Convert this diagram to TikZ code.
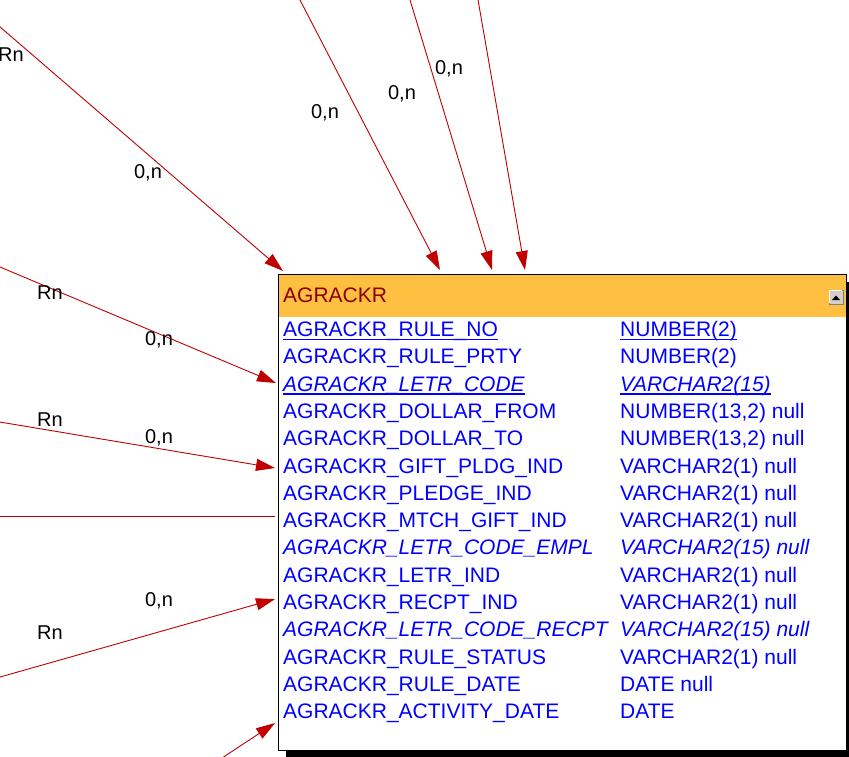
\documentclass[tikz,border=0pt]{standalone}
\usepackage{fontspec}
\setmainfont{Liberation Sans}
\usetikzlibrary{arrows.meta}
\definecolor{hdrfill}{HTML}{FFBF40}
\definecolor{ttlred}{HTML}{8B0000}
\definecolor{colblue}{HTML}{0000FF}
\definecolor{connred}{HTML}{C00000}
\definecolor{btngrey}{HTML}{D4D0C8}
\begin{document}
\begin{tikzpicture}[x=1pt,y=-1pt,
  relline/.style={draw=connred, line width=0.9pt},
  relarrow/.style={relline, -{Triangle[length=19pt,width=12pt]}},
  lbl/.style={font=\fontsize{20}{20}\selectfont, text=black, inner sep=0pt},
  field/.style={anchor=base west, inner sep=0pt, font=\fontsize{21}{21}\selectfont, text=colblue},
  itfield/.style={field, font=\fontsize{21}{21}\selectfont\itshape},
  ulline/.style={draw=colblue, line width=1.3pt}]
\useasboundingbox (0,0) rectangle (849,756);
\clip (0,0) rectangle (849,756);
\fill[white] (0,0) rectangle (849,756);

% shadow and table box
\fill[black] (286,282) rectangle (860,766);
\node[draw=black, line width=1pt, fill=white, minimum width=568pt, minimum height=476pt, inner sep=0pt, anchor=north west] (tbl) at (278,274) {};
\fill[hdrfill] (278.5,274.5) rectangle (845.5,317);
\node[anchor=base west, inner sep=0pt, font=\fontsize{21}{21}\selectfont, text=ttlred] (title) at (283,302.5) {AGRACKR};

% scroll button
\node[draw=gray, fill=btngrey, minimum size=14pt, inner sep=0pt, anchor=north west] (btn) at (829,290) {};
\draw[white, line width=0.8pt] (829.6,303.4) -- (829.6,290.6) -- (842.4,290.6);
\fill[black] (832,300) -- (840,300) -- (836,295.5) -- cycle;

% fields
\node[field] (n1) at (283,336.5) {AGRACKR\_RULE\_NO};
\node[field] (t1) at (620,336.5) {NUMBER(2)};
\node[field] (n2) at (283,363.8) {AGRACKR\_RULE\_PRTY};
\node[field] (t2) at (620,363.8) {NUMBER(2)};
\node[itfield] (n3) at (283,391.1) {AGRACKR\_LETR\_CODE};
\node[itfield] (t3) at (620,391.1) {VARCHAR2(15)};
\node[field] (n4) at (283,418.4) {AGRACKR\_DOLLAR\_FROM};
\node[field] (t4) at (620,418.4) {NUMBER(13,2) null};
\node[field] (n5) at (283,445.7) {AGRACKR\_DOLLAR\_TO};
\node[field] (t5) at (620,445.7) {NUMBER(13,2) null};
\node[field] (n6) at (283,473.0) {AGRACKR\_GIFT\_PLDG\_IND};
\node[field] (t6) at (620,473.0) {VARCHAR2(1) null};
\node[field] (n7) at (283,500.3) {AGRACKR\_PLEDGE\_IND};
\node[field] (t7) at (620,500.3) {VARCHAR2(1) null};
\node[field] (n8) at (283,527.6) {AGRACKR\_MTCH\_GIFT\_IND};
\node[field] (t8) at (620,527.6) {VARCHAR2(1) null};
\node[itfield] (n9) at (283,554.9) {AGRACKR\_LETR\_CODE\_EMPL};
\node[itfield] (t9) at (620,554.9) {VARCHAR2(15) null};
\node[field] (n10) at (283,582.2) {AGRACKR\_LETR\_IND};
\node[field] (t10) at (620,582.2) {VARCHAR2(1) null};
\node[field] (n11) at (283,609.5) {AGRACKR\_RECPT\_IND};
\node[field] (t11) at (620,609.5) {VARCHAR2(1) null};
\node[itfield] (n12) at (283,636.8) {AGRACKR\_LETR\_CODE\_RECPT};
\node[itfield] (t12) at (620,636.8) {VARCHAR2(15) null};
\node[field] (n13) at (283,664.1) {AGRACKR\_RULE\_STATUS};
\node[field] (t13) at (620,664.1) {VARCHAR2(1) null};
\node[field] (n14) at (283,691.4) {AGRACKR\_RULE\_DATE};
\node[field] (t14) at (620,691.4) {DATE null};
\node[field] (n15) at (283,718.7) {AGRACKR\_ACTIVITY\_DATE};
\node[field] (t15) at (620,718.7) {DATE};

% underlines (primary / foreign key)
\draw[ulline] ([yshift=-2.8pt]n1.base west) -- ([yshift=-2.8pt]n1.base east);
\draw[ulline] ([yshift=-2.8pt]t1.base west) -- ([yshift=-2.8pt]t1.base east);
\draw[ulline] ([yshift=-2.8pt]n3.base west) -- ([yshift=-2.8pt]n3.base east);
\draw[ulline] ([yshift=-2.8pt]t3.base west) -- ([yshift=-2.8pt]t3.base east);

% connector end points
\coordinate (s1) at (-30,1);      \coordinate (e1) at (283,271);
\coordinate (s2) at (294.8,-10);  \coordinate (e2) at (440,270);
\coordinate (s3) at (407,-10);    \coordinate (e3) at (492,270);
\coordinate (s4) at (476.3,-10);  \coordinate (e4) at (525,270);
\coordinate (s5) at (-20,258.6);  \coordinate (e5) at (276,383);
\coordinate (s6) at (-20,418.7);  \coordinate (e6) at (275,468);
\coordinate (s7) at (-20,516);    \coordinate (e7) at (275,516);
\coordinate (s8) at (-20,682.7);  \coordinate (e8) at (275,599);
\coordinate (s9) at (210,766);    \coordinate (e9) at (275,723);

\draw[relarrow] (s1) -- (e1);
\draw[relarrow] (s2) -- (e2);
\draw[relarrow] (s3) -- (e3);
\draw[relarrow] (s4) -- (e4);
\draw[relarrow] (s5) -- (e5);
\draw[relarrow] (s6) -- (e6);
\draw[relline]  (s7) -- (e7);
\draw[relarrow] (s8) -- (e8);
\draw[relarrow] (s9) -- (e9);

% labels
\node[lbl, anchor=west] (l1r) at (-2,55) {Rn};
\node[lbl] (l1c) at (148,173) {0,n};
\node[lbl] (l2c) at (325,113) {0,n};
\node[lbl] (l3c) at (402,94) {0,n};
\node[lbl] (l4c) at (449,69) {0,n};
\node[lbl] (l5r) at (50,293) {Rn};
\node[lbl] (l5c) at (159,340) {0,n};
\node[lbl] (l6r) at (50,420) {Rn};
\node[lbl] (l6c) at (159,438) {0,n};
\node[lbl] (l8c) at (159,601) {0,n};
\node[lbl] (l8r) at (50,633) {Rn};
\end{tikzpicture}
\end{document}
